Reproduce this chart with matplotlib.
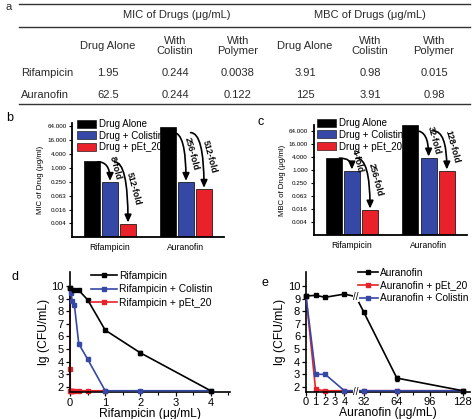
import matplotlib.pyplot as plt
import numpy as np
from matplotlib.patches import Patch
from matplotlib.lines import Line2D
from matplotlib.ticker import FixedLocator, NullLocator

plt.rcParams['font.family'] = ['Liberation Sans', 'DejaVu Sans']

W, H = 474, 419

# ---- data ----
drugs = ['Rifampicin', 'Auranofin']
mic_alone = [1.95, 62.5]
mic_colistin = [0.244, 0.244]
mic_polymer = [0.0038, 0.122]
mbc_alone = [3.91, 125]
mbc_colistin = [0.98, 3.91]
mbc_polymer = [0.015, 0.98]
mic_folds = [['8-fold', '512-fold'], ['256-fold', '512-fold']]
mbc_folds = [['4-fold', '256-fold'], ['32-fold', '128-fold']]
bar_labels = ['Drug Alone', 'Drug + Colistin', 'Drug + pEt_20']
log_ticks = [64, 16, 4, 1, 0.25, 0.0625, 0.015625, 0.00390625]
log_tick_labels = ['64.000', '16.000', '4.000', '1.000', '0.250', '0.063', '0.016', '0.004']

rif_x = [0, 0.125, 0.25, 0.5, 1, 2, 4]
rif_y = [9.8, 9.7, 9.65, 8.9, 6.5, 4.7, 1.7]
rif_err = [0.05, 0.05, 0.05, 0.08, 0.1, 0.15, 0.0]
rif_col_x = [0, 0.03125, 0.0625, 0.125, 0.25, 0.5, 1, 2, 4]
rif_col_y = [9.8, 9.4, 8.8, 8.45, 5.4, 4.2, 1.7, 1.7, 1.7]
rif_pet_x = [0, 0.0039, 0.0078, 0.0156, 0.03125, 0.0625, 0.125, 0.25, 0.5, 1]
rif_pet_y = [9.8, 3.4, 1.7, 1.7, 1.7, 1.7, 1.7, 1.7, 1.7, 1.7]

au_x = [0, 1, 2, 4, 16, 32, 64, 128]
au_y = [9.2, 9.25, 9.1, 9.35, 9.15, 7.9, 2.7, 1.7]
au_err = [0.05, 0.05, 0.05, 0.05, 0.0, 0.08, 0.2, 0.0]
au_pet_x = [0, 1, 2, 4, 32, 64, 128]
au_pet_y = [9.2, 1.8, 1.7, 1.7, 1.7, 1.7, 1.7]
au_col_x = [0, 1, 2, 4, 32, 64, 128]
au_col_y = [9.2, 3.0, 3.0, 1.7, 1.7, 1.7, 1.7]

BLACK, BLUE, RED = '#000000', '#3548a6', '#e8212b'


def fx(x):
    return x / W


def fy(y):
    return 1 - y / H


def rect(l, t, r, b):
    return [fx(l), fy(b), (r - l) / W, (b - t) / H]


fig = plt.figure(figsize=(W / 100, H / 100), dpi=100)

# ---- panel a: table ----
tc = '#2a2a2a'
fig.text(fx(5), fy(7), 'a', fontsize=8, color=tc, va='center')
for yl in [4, 27.5, 104]:
    fig.add_artist(Line2D([fx(19), fx(470)], [fy(yl), fy(yl)], color='#333333', lw=1.0))
fig.text(fx(177), fy(15), 'MIC of Drugs (μg/mL)', fontsize=8, color=tc, ha='center', va='center')
fig.text(fx(370), fy(15), 'MBC of Drugs (μg/mL)', fontsize=8, color=tc, ha='center', va='center')
col_x = [108, 175, 238, 305, 370, 434]
sub = ['Drug Alone', 'With\nColistin', 'With\nPolymer'] * 2
for x, s in zip(col_x, sub):
    fig.text(fx(x), fy(46), s, fontsize=8, color=tc, ha='center', va='center', linespacing=1.1)
cols = [mic_alone, mic_colistin, mic_polymer, mbc_alone, mbc_colistin, mbc_polymer]
for i, (d, yr) in enumerate(zip(drugs, [73, 95])):
    fig.text(fx(21), fy(yr), d, fontsize=8, color=tc, ha='left', va='center')
    for x, c in zip(col_x, cols):
        fig.text(fx(x), fy(yr), f'{c[i]:g}', fontsize=8, color=tc, ha='center', va='center')


# ---- panels b, c: bar charts ----
def bar_panel(pos, alone, col, poly, folds, ylab, ytop, letter, lpos):
    ax = fig.add_axes(pos)
    w = 0.21
    step = 0.237
    xs = np.arange(len(drugs))
    for k, (vals, c, lab) in enumerate(zip([alone, col, poly], [BLACK, BLUE, RED], bar_labels)):
        ax.bar(xs + (k - 1) * step, vals, width=w, color=c, edgecolor='black', lw=0.5, label=lab)
    ax.set_yscale('log')
    ax.set_ylim(0.001, ytop)
    ax.set_xlim(-0.5, 1.5)
    ax.yaxis.set_major_locator(FixedLocator(log_ticks))
    ax.yaxis.set_minor_locator(NullLocator())
    ax.set_yticklabels(log_tick_labels)
    ax.set_xticks(xs)
    ax.set_xticklabels(drugs, fontsize=6.2)
    ax.tick_params(axis='x', length=0, pad=4)
    ax.tick_params(axis='y', labelsize=4.5, length=2.5, width=0.8, direction='out', pad=1.5)
    for s in ['top', 'right']:
        ax.spines[s].set_visible(False)
    for s in ['left', 'bottom']:
        ax.spines[s].set_linewidth(1.3)
    ax.set_ylabel(ylab, fontsize=5.6, labelpad=2)
    for i in range(len(drugs)):
        top = alone[i] * (0.55 if alone[i] > 30 else 0.95)
        targets = [(xs[i], col[i]), (xs[i] + step, poly[i])]
        starts = [xs[i] - step + w / 2 - 0.03, xs[i] + 0.06]
        for (tx, tv), sx, lab in zip(targets, starts, folds[i]):
            ax.annotate('', xy=(tx, tv * 1.12), xytext=(sx, top),
                        arrowprops=dict(arrowstyle='-|>,head_length=0.45,head_width=0.2',
                                        connectionstyle='angle3,angleA=0,angleB=90',
                                        color='black', lw=1.2, shrinkA=0, shrinkB=0))
            ax.text(tx + 0.075, np.sqrt(top * tv) * 1.5, lab, rotation=-75, fontsize=6.3,
                    fontweight='bold', ha='center', va='center')
    handles = [Patch(facecolor=c, edgecolor='black', lw=0.4) for c in [BLACK, BLUE, RED]]
    fig.legend(handles, bar_labels, loc='upper left', bbox_to_anchor=lpos, frameon=False,
               fontsize=7, handlelength=2.0, handleheight=0.9, labelspacing=0.18,
               handletextpad=0.25, borderaxespad=0, borderpad=0)
    fig.text(*letter[:2], letter[2], fontsize=9, va='center')
    return ax


bar_panel(rect(72, 123, 224, 237), mic_alone, mic_colistin, mic_polymer, mic_folds,
          'MIC of Drug (μg/ml)', 90, (fx(6), fy(118), 'b'), (fx(77), fy(119)))
bar_panel(rect(313.5, 125, 467, 235), mbc_alone, mbc_colistin, mbc_polymer, mbc_folds,
          'MBC of Drug (μg/ml)', 128, (fx(258), fy(122), 'c'), (fx(317), fy(118)))


# ---- panels d, e: kill curves ----
def style_curve_ax(ax):
    for s in ['top', 'right']:
        ax.spines[s].set_visible(False)
    for s in ['left', 'bottom']:
        ax.spines[s].set_linewidth(1.2)
    ax.set_ylim(1.6, 11.1)
    ax.set_yticks(range(2, 11))
    ax.tick_params(labelsize=8, length=3, width=0.9, direction='out', pad=1)
    ax.tick_params(which='minor', length=1.8, width=0.8, direction='out')
    ax.set_ylabel('lg (CFU/mL)', fontsize=8.7, labelpad=1)


lkw = dict(marker='s', ms=2.2, lw=1.2, elinewidth=0.8, capsize=1.2, clip_on=False)

axd = fig.add_axes(rect(69.5, 272, 230, 392))
axd.plot(rif_pet_x, rif_pet_y, color=RED, marker='s', ms=2.2, lw=1.2, clip_on=False, zorder=2)
axd.plot(rif_col_x, rif_col_y, color=BLUE, marker='s', ms=2.2, lw=1.2, clip_on=False, zorder=3)
axd.errorbar(rif_x, rif_y, yerr=rif_err, color=BLACK, zorder=4, **lkw)
axd.set_xlim(-0.015, 4.55)
axd.set_xticks(range(0, 5))
axd.set_xticks(np.arange(0.5, 4.6, 1.0), minor=True)
style_curve_ax(axd)
axd.set_xlabel('Rifampicin (μg/mL)', fontsize=8.7, labelpad=0)
hd = [Line2D([], [], color=c, marker='s', ms=2.2, lw=1.2) for c in [BLACK, BLUE, RED]]
axd.legend(hd, ['Rifampicin', 'Rifampicin + Colistin', 'Rifampicin + pEt_20'],
           loc='upper left', bbox_to_anchor=(fx(91), fy(271)), bbox_transform=fig.transFigure,
           frameon=False, fontsize=7.4, handlelength=2.5, handletextpad=0.2,
           labelspacing=0.32, borderaxespad=0, borderpad=0)
fig.text(fx(12), fy(277), 'd', fontsize=9, va='center')

# broken x-axis for panel e
B0, B1, K = 5.2, 24.2, 0.1073


def fwd(x):
    x = np.asarray(x, dtype=float)
    return np.where(x <= B0, x, np.where(x >= B1, B0 + (x - B1) * K, B0))


def inv(u):
    u = np.asarray(u, dtype=float)
    return np.where(u <= B0, u, B1 + (u - B0) / K)


axe = fig.add_axes(rect(305.7, 272, 470, 392))
axe.set_xscale('function', functions=(fwd, inv))
axe.plot(au_pet_x, au_pet_y, color=RED, marker='s', ms=2.2, lw=1.2, clip_on=False, zorder=2)
axe.plot(au_col_x, au_col_y, color=BLUE, marker='s', ms=2.2, lw=1.2, clip_on=False, zorder=3)
axe.errorbar(au_x, au_y, yerr=au_err, color=BLACK, zorder=4, markevery=[0, 1, 2, 3, 5, 6, 7], **lkw)
axe.set_xlim(-0.03, 135)
axe.set_xticks([0, 1, 2, 3, 4, 32, 64, 96, 128])
axe.set_xticks([48, 80, 112], minor=True)
style_curve_ax(axe)
axe.tick_params(axis='x', pad=0.5)
axe.set_xlabel('Auranofin (μg/mL)', fontsize=8.7, labelpad=0)
brk = np.interp(B0, fwd(au_x), au_y)
for yb in [brk, 1.6]:
    axe.text(B0 + 0.1, yb, '//', fontsize=7, ha='center', va='center', zorder=6,
             bbox=dict(facecolor='white', edgecolor='none', pad=0.2), clip_on=False)
he = [Line2D([], [], color=c, marker='s', ms=2.2, lw=1.2) for c in [BLACK, RED, BLUE]]
axe.legend(he, ['Auranofin', 'Auranofin + pEt_20', 'Auranofin + Colistin'],
           loc='upper left', bbox_to_anchor=(fx(358), fy(268)), bbox_transform=fig.transFigure,
           frameon=False, fontsize=7.3, handlelength=2.0, handletextpad=0.2,
           labelspacing=0.25, borderaxespad=0, borderpad=0)
fig.text(fx(262), fy(283), 'e', fontsize=9, va='center')

fig.savefig('out.png', dpi=100)
